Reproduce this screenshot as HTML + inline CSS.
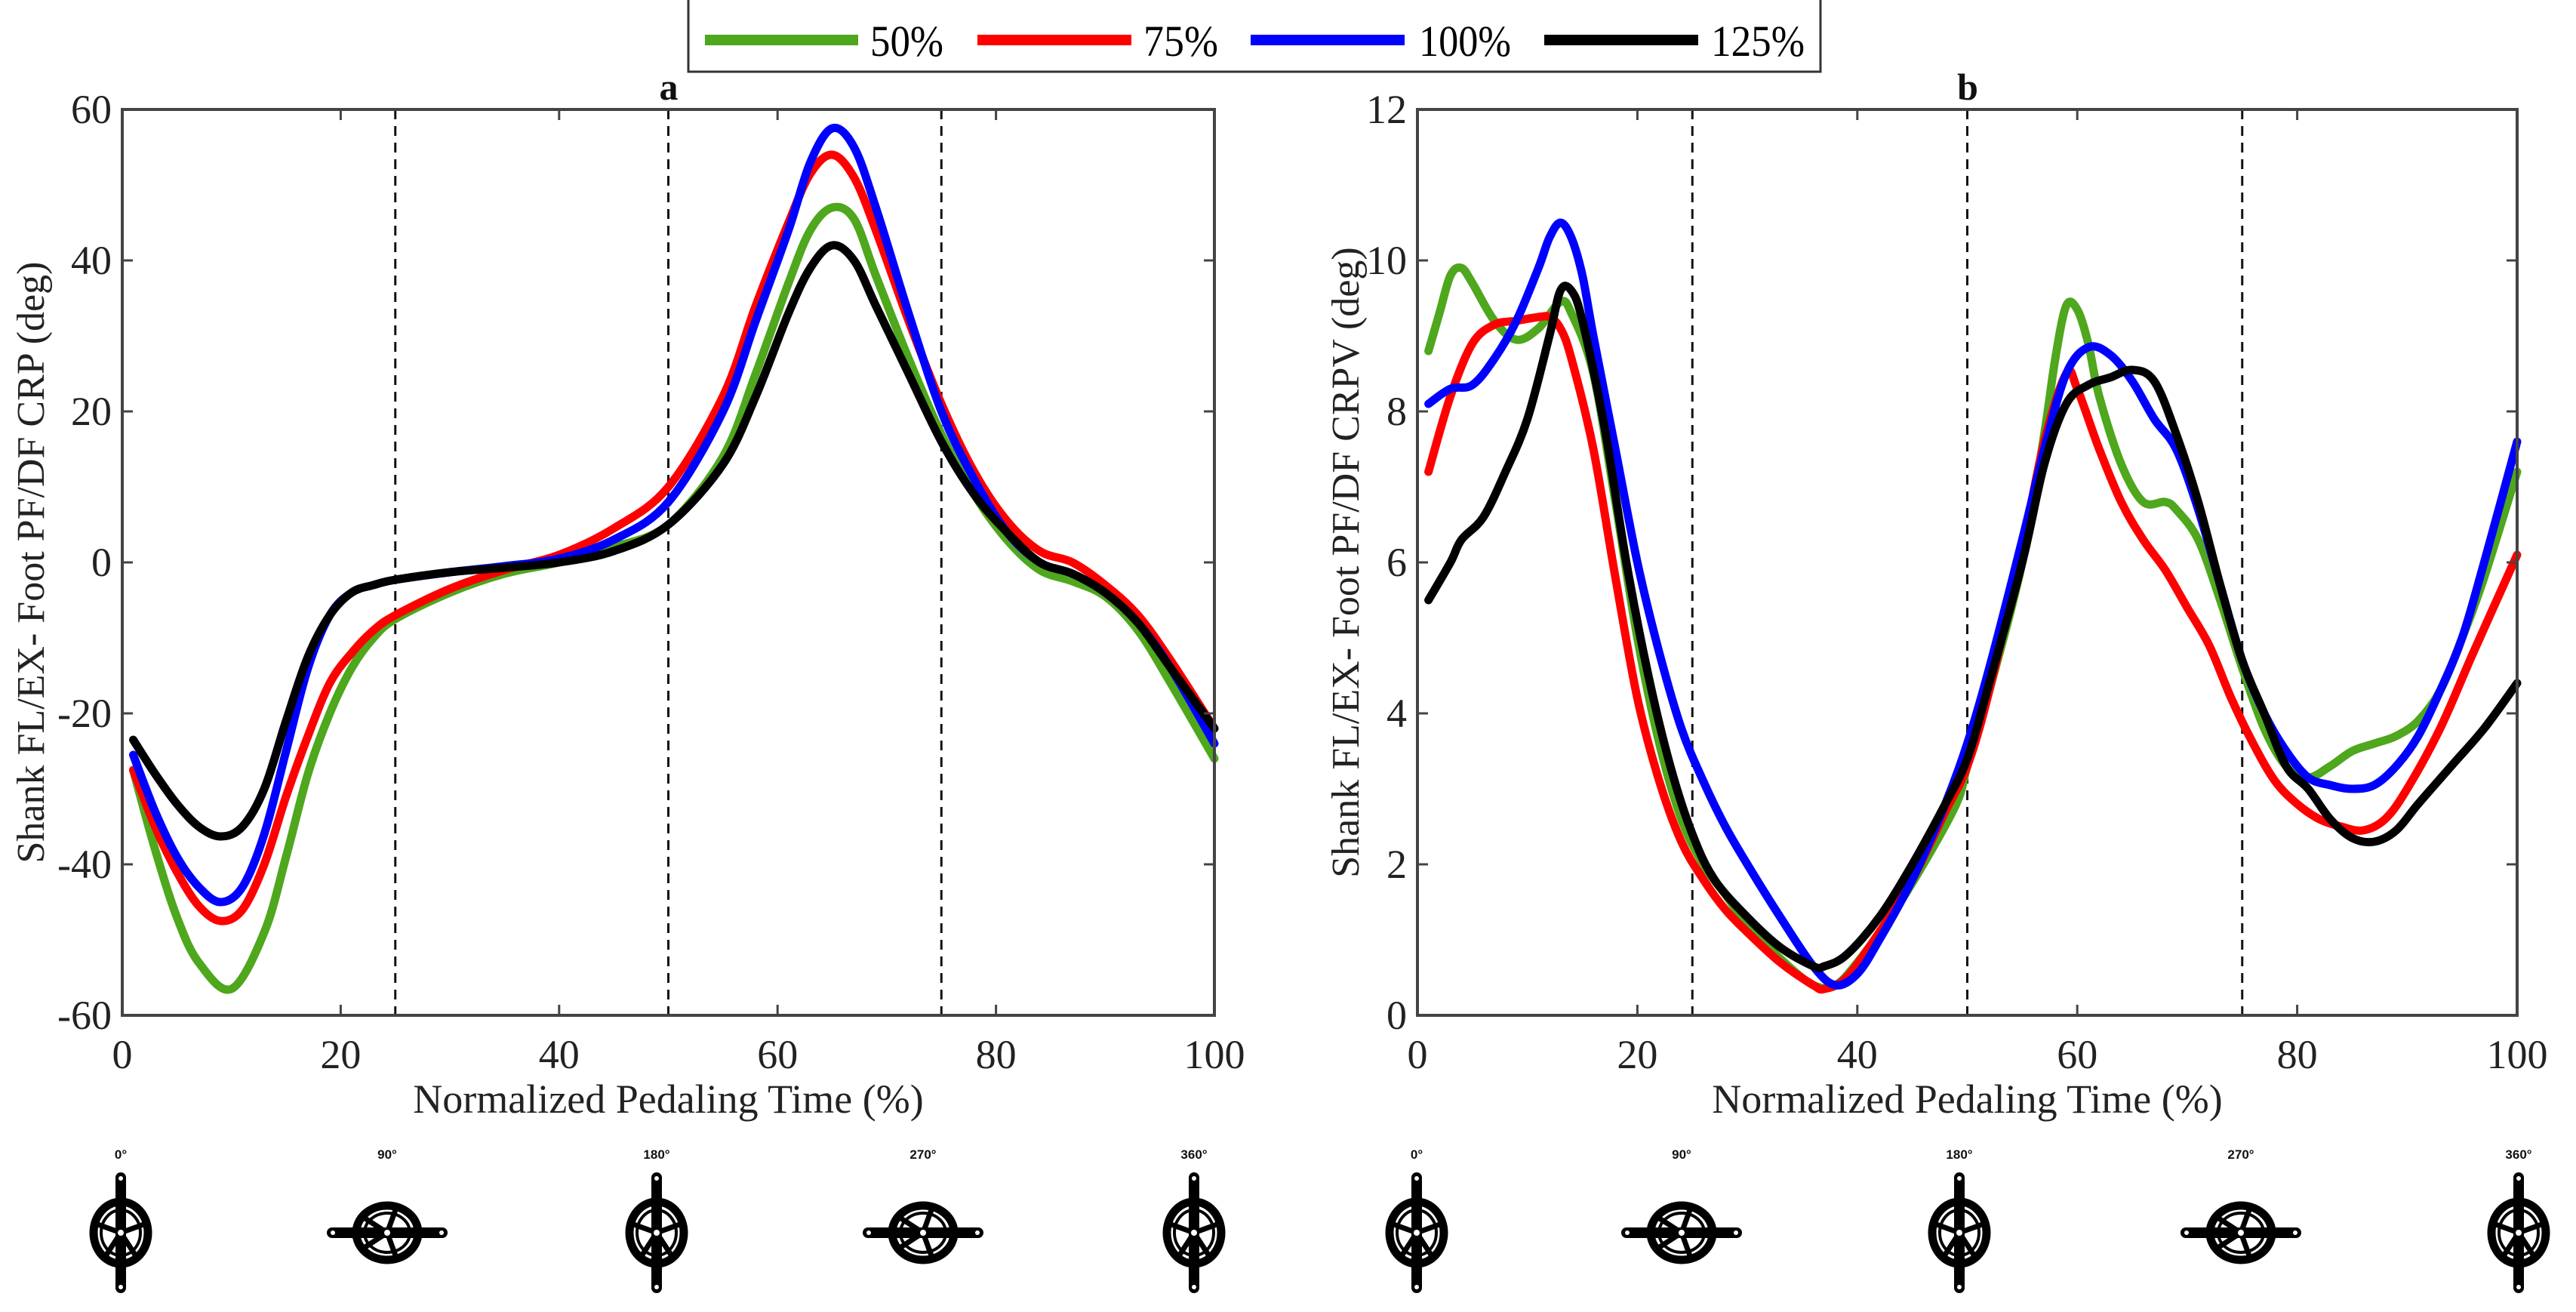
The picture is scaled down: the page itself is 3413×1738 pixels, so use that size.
<!DOCTYPE html>
<html><head><meta charset="utf-8">
<style>
html,body{margin:0;padding:0;background:#fff;}
svg{display:block;}
text{font-family:"Liberation Serif",serif;}
</style></head>
<body>
<svg id="fig" width="3413" height="1738" viewBox="0 0 3413 1738" xmlns="http://www.w3.org/2000/svg">
<g id="legend">
  <path d="M912 0 V95 H2412 V0" fill="none" stroke="#333" stroke-width="3"/>
  <line x1="934" y1="53" x2="1137" y2="53" stroke="#4ea71c" stroke-width="14"/>
  <text x="1153" y="74" font-size="58" textLength="97" lengthAdjust="spacingAndGlyphs">50%</text>
  <line x1="1295" y1="53" x2="1499" y2="53" stroke="#ff0000" stroke-width="14"/>
  <text x="1515" y="74" font-size="58" textLength="99" lengthAdjust="spacingAndGlyphs">75%</text>
  <line x1="1657" y1="53" x2="1861" y2="53" stroke="#0000ff" stroke-width="14"/>
  <text x="1880" y="74" font-size="58" textLength="122" lengthAdjust="spacingAndGlyphs">100%</text>
  <line x1="2046" y1="53" x2="2250" y2="53" stroke="#000" stroke-width="14"/>
  <text x="2267" y="74" font-size="58" textLength="124" lengthAdjust="spacingAndGlyphs">125%</text>
</g>
</svg>
<script>
// ---- Panel a data (CRP) ----
const aGreenX=[1,3,5,7,10,13,15,17,19,21,23,25,30,35,40,45,50,55,58,61,63,65,67,69,72,75,78,81,84,87,90,93,96,100];
const aGreenY=[-27.5,-38,-47,-53,-56.5,-49,-39,-28,-20,-14,-10,-7.5,-4,-1.5,0,2,5,14,25,37,44,47,45.5,38,27,17,9,3,-1,-2.5,-4.5,-9,-16,-26];
const aX=[1,3,5,7,9,11,13,15,17,19,21,23,25,30,35,40,45,50,55,58,61,63,65,67,69,72,75,78,81,84,87,90,93,96,100];
const aRedY=[-27.5,-35,-41,-45.5,-47.5,-46,-40,-31,-23,-16,-12,-9,-7,-3.5,-1,1,4.5,10,22,34,45,51.5,54,51,44,32,21,12,5.5,1.5,0,-3,-7,-13,-22];
const aBlueY=[-25.5,-33,-39,-43,-45,-43,-36,-25,-14,-7,-4,-3,-2.3,-1.3,-0.5,0.5,3,8,20,32,44,53,57.5,55,47,33,20,11,4,0,-1.5,-4,-8,-14,-24];
const aBlackY=[-23.5,-28,-32,-35,-36.3,-35,-30,-21,-12.5,-7,-4,-3,-2.3,-1.3,-0.7,0,1.5,5,13,22,33,39,42,40,34,25,16,9,4,0,-1.5,-4,-8,-14,-22];
// ---- Panel b data (CRPV) ----
const bGreenX=[1,2,3,4,5,7,9,11,13,14,16,18,20,22,24,26,28,30,33,36,38,40,43,46,49,50,52,55,57,58,59,60,61,62,64,66,68,69,71,73,75,77,79,81,83,85,87,89,91,93,95,97,100];
const bGreenY=[8.8,9.3,9.8,9.9,9.7,9.2,8.95,9.1,9.45,9.3,8.5,6.8,5.0,3.6,2.6,2.0,1.6,1.2,0.75,0.4,0.4,0.7,1.3,2.0,2.8,3.3,4.3,6.0,7.7,8.7,9.4,9.35,8.9,8.2,7.3,6.8,6.8,6.7,6.3,5.5,4.6,3.8,3.3,3.15,3.3,3.5,3.6,3.7,3.9,4.3,5.0,5.8,7.2];
const bRedX=[1,3,5,7,9,11,12,13,14,16,18,20,22,24,26,28,30,33,36,37,39,42,45,48,50,52,55,57,59,60,62,64,66,68,70,72,74,76,78,80,82,84,86,88,90,93,96,100];
const bRedY=[7.2,8.2,8.9,9.15,9.2,9.25,9.25,9.1,8.7,7.5,5.8,4.2,3.1,2.3,1.8,1.4,1.1,0.7,0.4,0.35,0.5,1.1,1.8,2.7,3.3,4.3,6.2,7.6,8.5,8.3,7.5,6.8,6.3,5.9,5.4,4.9,4.2,3.6,3.1,2.8,2.6,2.5,2.45,2.6,3.0,3.8,4.8,6.1];
const bBlueX=[1,3,5,7,9,11,12,13,14,15,16,18,20,22,24,26,28,30,33,36,38,40,42,45,48,50,52,55,57,59,61,63,65,67,69,71,73,75,77,79,81,83,85,87,89,91,93,95,97,100];
const bBlueY=[8.1,8.3,8.35,8.7,9.2,9.9,10.3,10.5,10.3,9.8,9.0,7.5,6.0,4.8,3.8,3.1,2.5,2.0,1.3,0.65,0.4,0.55,1.0,1.8,2.8,3.6,4.6,6.3,7.5,8.5,8.85,8.75,8.4,7.9,7.5,6.7,5.7,4.7,4.0,3.5,3.15,3.05,3.0,3.05,3.3,3.7,4.3,5.0,6.0,7.6];
const bBlackX=[1,3,4,6,8,10,12,13,14,15,17,19,21,23,25,27,30,33,36,37,39,42,45,48,50,52,55,57,59,61,63,65,67,69,71,73,75,77,79,81,83,85,87,89,91,94,97,100];
const bBlackY=[5.5,6.0,6.3,6.6,7.2,7.9,9.0,9.6,9.6,9.2,7.8,6.0,4.5,3.3,2.4,1.8,1.3,0.9,0.65,0.65,0.8,1.3,2.0,2.8,3.4,4.4,6.0,7.3,8.1,8.35,8.45,8.55,8.4,7.7,6.8,5.7,4.7,4.0,3.3,3.0,2.6,2.35,2.3,2.45,2.8,3.3,3.8,4.4];
const xTicks=[0,20,40,60,80,100];
const aYTicks=[-60,-40,-20,0,20,40,60];
const bYTicks=[0,2,4,6,8,10,12];
const phaseLines=[25,50,75];
const crankLabels=["0°","90°","180°","270°","360°"];

const NS="http://www.w3.org/2000/svg";
const fig=document.getElementById('fig');
function mk(tag,attrs,parent){const e=document.createElementNS(NS,tag);for(const k in attrs)e.setAttribute(k,attrs[k]);(parent||fig).appendChild(e);return e;}
function smooth(pts){
  let d=`M${pts[0][0].toFixed(1)} ${pts[0][1].toFixed(1)}`;
  for(let i=0;i<pts.length-1;i++){
    const p0=pts[i-1]||pts[i],p1=pts[i],p2=pts[i+1],p3=pts[i+2]||p2;
    const c1=[p1[0]+(p2[0]-p0[0])/6,p1[1]+(p2[1]-p0[1])/6];
    const c2=[p2[0]-(p3[0]-p1[0])/6,p2[1]-(p3[1]-p1[1])/6];
    d+=` C${c1[0].toFixed(1)} ${c1[1].toFixed(1)} ${c2[0].toFixed(1)} ${c2[1].toFixed(1)} ${p2[0].toFixed(1)} ${p2[1].toFixed(1)}`;
  }
  return d;
}
function panel(cfg){
  const {L,R,T,B,ymin,ymax,yTicks,series,title,titleX,ylabel,ylabelX,key}=cfg;
  const g=mk('g',{});
  
  
  const sx=v=>L+(v-0)/(100-0)*(R-L);
  const sy=v=>B-(v-ymin)/(ymax-ymin)*(B-T);
  phaseLines.forEach(p=>{
    const l=mk('line',{x1:sx(p),x2:sx(p),y1:T,y2:B,stroke:'#111','stroke-width':3,'stroke-dasharray':'13 9'},g);
    
    
  });
  series.forEach(s=>{
    const pts=s.x.map((xv,i)=>[sx(xv),sy(s.y[i])]);
    const p=mk('path',{d:smooth(pts),fill:'none',stroke:s.c,'stroke-width':11,'stroke-linejoin':'round','stroke-linecap':'round'},g);
    
    
  });
  const fr=mk('rect',{x:L,y:T,width:R-L,height:B-T,fill:'none',stroke:'#444','stroke-width':4},g);
  
  
  xTicks.forEach(t=>{
    const x=sx(t);
    mk('line',{x1:x,x2:x,y1:B,y2:B-14,stroke:'#444','stroke-width':3},g);
    mk('line',{x1:x,x2:x,y1:T,y2:T+14,stroke:'#444','stroke-width':3},g);
    const tx=mk('text',{x:x,y:B+70,'font-size':54,'text-anchor':'middle',fill:'#222'},g);
    tx.textContent=t;
    
    
  });
  yTicks.forEach(t=>{
    const y=sy(t);
    mk('line',{x1:L,x2:L+14,y1:y,y2:y,stroke:'#444','stroke-width':3},g);
    mk('line',{x1:R,x2:R-14,y1:y,y2:y,stroke:'#444','stroke-width':3},g);
    const tx=mk('text',{x:L-14,y:y+18,'font-size':54,'text-anchor':'end',fill:'#222'},g);
    tx.textContent=t;
    
    
  });
  const xt=mk('text',{x:(L+R)/2,y:1474,'font-size':54,'text-anchor':'middle',fill:'#222'},g);
  xt.textContent='Normalized Pedaling Time (%)';
  
  
  const yt=mk('text',{x:0,y:0,'font-size':52,'text-anchor':'middle',fill:'#222',transform:`translate(${ylabelX},${(T+B)/2}) rotate(-90)`},g);
  yt.textContent=ylabel;
  
  
  const tt=mk('text',{x:titleX,y:132,'font-size':50,'font-weight':'bold','text-anchor':'middle',fill:'#111'},g);
  tt.textContent=title;
  
  
}
panel({key:'a',L:162,R:1609,T:145,B:1345,ymin:-60,ymax:60,yTicks:aYTicks,title:'a',titleX:886,ylabelX:58,
  ylabel:'Shank FL/EX- Foot PF/DF CRP (deg)',
  series:[{n:'50',c:'#4ea71c',x:aGreenX,y:aGreenY},{n:'75',c:'#ff0000',x:aX,y:aRedY},{n:'100',c:'#0000ff',x:aX,y:aBlueY},{n:'125',c:'#000',x:aX,y:aBlackY}]});
panel({key:'b',L:1878,R:3335,T:145,B:1345,ymin:0,ymax:12,yTicks:bYTicks,title:'b',titleX:2607,ylabelX:1800,
  ylabel:'Shank FL/EX- Foot PF/DF CRPV (deg)',
  series:[{n:'50',c:'#4ea71c',x:bGreenX,y:bGreenY},{n:'75',c:'#ff0000',x:bRedX,y:bRedY},{n:'100',c:'#0000ff',x:bBlueX,y:bBlueY},{n:'125',c:'#000',x:bBlackX,y:bBlackY}]});

function crank(cx,cy,rot,label){
  const g=mk('g',{transform:`translate(${cx},${cy})`});
  
  
  const t=mk('text',{x:0,y:-98,'font-size':17,'font-weight':'bold','text-anchor':'middle',fill:'#111',style:'font-family:"Liberation Sans",sans-serif'},g);
  t.textContent=label;
  
  
  const inner=mk('g',{transform:`rotate(${rot})`},g);
  mk('ellipse',{cx:0,cy:0,rx:36,ry:41,fill:'none',stroke:'#000','stroke-width':11},inner);
  mk('ellipse',{cx:0,cy:0,rx:26,ry:30,fill:'none',stroke:'#000','stroke-width':4},inner);
  for(let k=0;k<5;k++){const a=k*72*Math.PI/180;mk('line',{x1:0,y1:0,x2:34*Math.sin(a),y2:-38*Math.cos(a),stroke:'#000','stroke-width':7},inner);}
  mk('rect',{x:-7,y:-80,width:14,height:160,rx:7,fill:'#000'},inner);
  mk('circle',{cx:0,cy:-72,r:3,fill:'#fff'},inner);
  mk('circle',{cx:0,cy:72,r:3,fill:'#fff'},inner);
  mk('circle',{cx:0,cy:0,r:5,fill:'#fff',stroke:'#000','stroke-width':2},inner);
}
const aCranks=[160,513,870,1223,1582],bCranks=[1877,2228,2596,2969,3337],rots=[0,90,0,90,0];
aCranks.forEach((x,i)=>crank(x,1633,rots[i],crankLabels[i]));
bCranks.forEach((x,i)=>crank(x,1633,rots[i],crankLabels[i]));
</script>
</body></html>
